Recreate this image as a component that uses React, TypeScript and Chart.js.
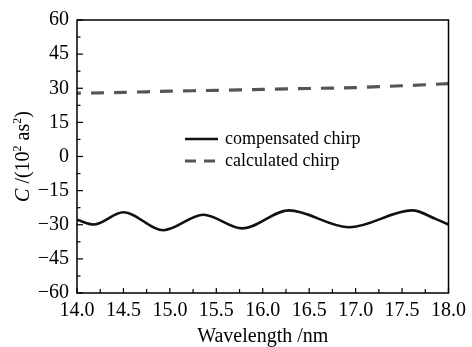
import React, { useEffect, useRef } from "react";
import { Chart, registerables } from "chart.js";

Chart.register(...registerables);

const compWavelength = [14.0, 14.18, 14.5, 14.93, 15.36, 15.78, 16.28, 16.93, 17.61, 17.86, 18.0];
const compValues = [-27.8, -29.9, -24.5, -32.4, -25.6, -31.6, -23.7, -31.1, -23.7, -27.4, -29.9];

const calcWavelength = [14.0, 14.5, 15.0, 15.5, 16.0, 16.5, 17.0, 17.5, 18.0];
const calcValues = [27.8, 28.2, 28.7, 29.1, 29.5, 29.9, 30.3, 31.1, 32.0];

const yTicks = [-60, -45, -30, -15, 0, 15, 30, 45, 60];
const xTicks = [14.0, 14.5, 15.0, 15.5, 16.0, 16.5, 17.0, 17.5, 18.0];

const legendLabels = ["compensated chirp", "calculated chirp"];
const xTitle = "Wavelength /nm";

const FONT = "'Liberation Serif', 'Times New Roman', serif";

const overlayPlugin = {
  id: "overlay",
  afterDraw(chart: any) {
    const { ctx, chartArea, scales } = chart;
    const { left, right, top, bottom } = chartArea;
    const x = scales.x;
    const y = scales.y;
    ctx.save();
    ctx.strokeStyle = "#000";
    ctx.lineWidth = 1.5;
    ctx.strokeRect(left, top, right - left, bottom - top);
    ctx.lineWidth = 1.2;
    for (let i = 0; i < yTicks.length; i++) {
      const v = yTicks[i];
      const py = y.getPixelForValue(v);
      ctx.beginPath();
      ctx.moveTo(left, py);
      ctx.lineTo(left + 6, py);
      ctx.stroke();
      if (i < yTicks.length - 1) {
        const pm = y.getPixelForValue((v + yTicks[i + 1]) / 2);
        ctx.beginPath();
        ctx.moveTo(left, pm);
        ctx.lineTo(left + 3.5, pm);
        ctx.stroke();
      }
    }
    for (let i = 0; i < xTicks.length; i++) {
      const v = xTicks[i];
      const px = x.getPixelForValue(v);
      ctx.beginPath();
      ctx.moveTo(px, bottom);
      ctx.lineTo(px, bottom - 5);
      ctx.stroke();
      if (i < xTicks.length - 1) {
        const pm = x.getPixelForValue((v + xTicks[i + 1]) / 2);
        ctx.beginPath();
        ctx.moveTo(pm, bottom);
        ctx.lineTo(pm, bottom - 4);
        ctx.stroke();
      }
    }
    const lx0 = 185, lx1 = 218, ly0 = 139, ly1 = 161;
    ctx.strokeStyle = "#111";
    ctx.lineWidth = 2.6;
    ctx.beginPath();
    ctx.moveTo(lx0, ly0);
    ctx.lineTo(lx1, ly0);
    ctx.stroke();
    ctx.strokeStyle = "#555";
    ctx.lineWidth = 3;
    ctx.setLineDash([11, 8]);
    ctx.beginPath();
    ctx.moveTo(lx0, ly1);
    ctx.lineTo(lx1, ly1);
    ctx.stroke();
    ctx.setLineDash([]);
    ctx.fillStyle = "#000";
    ctx.font = `18px ${FONT}`;
    ctx.textBaseline = "middle";
    ctx.textAlign = "left";
    ctx.fillText(legendLabels[0], 225, ly0);
    ctx.fillText(legendLabels[1], 225, ly1);

    ctx.font = `20px ${FONT}`;
    ctx.textAlign = "center";
    ctx.textBaseline = "alphabetic";
    ctx.fillText(xTitle, (left + right) / 2, 342);

    const parts = [
      { t: "C", f: `italic 20px ${FONT}`, dy: 0 },
      { t: " /(10", f: `20px ${FONT}`, dy: 0 },
      { t: "2", f: `12px ${FONT}`, dy: -8 },
      { t: " as", f: `20px ${FONT}`, dy: 0 },
      { t: "2", f: `12px ${FONT}`, dy: -8 },
      { t: ")", f: `20px ${FONT}`, dy: 0 },
    ];
    let total = 0;
    const widths = parts.map((p) => {
      ctx.font = p.f;
      const w = ctx.measureText(p.t).width;
      total += w;
      return w;
    });
    ctx.translate(29, (top + bottom) / 2);
    ctx.rotate(-Math.PI / 2);
    ctx.textAlign = "left";
    ctx.textBaseline = "alphabetic";
    let cx = -total / 2;
    parts.forEach((p, i) => {
      ctx.font = p.f;
      ctx.fillText(p.t, cx, p.dy);
      cx += widths[i];
    });
    ctx.restore();
  },
};

export default function App() {
  const ref = useRef<HTMLCanvasElement | null>(null);
  useEffect(() => {
    document.body.style.margin = "0";
    const canvas = ref.current;
    if (!canvas) return;
    const chart = new Chart(canvas, {
      type: "line",
      data: {
        datasets: [
          {
            label: legendLabels[0],
            data: compWavelength.map((w, i) => ({ x: w, y: compValues[i] })),
            borderColor: "#111",
            borderWidth: 2.6,
            pointRadius: 0,
            cubicInterpolationMode: "monotone",
            fill: false,
          },
          {
            label: legendLabels[1],
            data: calcWavelength.map((w, i) => ({ x: w, y: calcValues[i] })),
            borderColor: "#555",
            borderWidth: 3.2,
            borderDash: [13, 10],
            borderDashOffset: 9,
            pointRadius: 0,
            tension: 0.3,
            fill: false,
          },
        ],
      },
      options: {
        responsive: false,
        animation: false,
        events: [],
        layout: { padding: { left: 0, top: 15, right: 22, bottom: 0 } },
        plugins: { legend: { display: false }, tooltip: { enabled: false } },
        scales: {
          x: {
            type: "linear",
            min: 14,
            max: 18,
            afterFit: (s: any) => {
              s.height = 54;
            },
            afterBuildTicks: (s: any) => {
              s.ticks = xTicks.map((v) => ({ value: v }));
            },
            grid: { display: false, drawTicks: false },
            border: { display: false },
            ticks: {
              color: "#000",
              font: { family: FONT, size: 20 },
              padding: 6,
              maxRotation: 0,
              autoSkip: false,
              callback: (v: any) => Number(v).toFixed(1),
            },
          },
          y: {
            type: "linear",
            min: -60,
            max: 60,
            afterFit: (s: any) => {
              s.width = 77;
            },
            afterBuildTicks: (s: any) => {
              s.ticks = yTicks.map((v) => ({ value: v }));
            },
            grid: { display: false, drawTicks: false },
            border: { display: false },
            ticks: {
              color: "#000",
              font: { family: FONT, size: 20 },
              padding: 8,
              autoSkip: false,
              callback: (v: any) => (Number(v) < 0 ? "\u2212" + Math.abs(Number(v)) : String(v)),
            },
          },
        },
      },
      plugins: [overlayPlugin],
    } as any);
    return () => chart.destroy();
  }, []);
  return (
    <div style={{ width: 472, height: 347 }}>
      <canvas ref={ref} width={472} height={347} />
    </div>
  );
}
